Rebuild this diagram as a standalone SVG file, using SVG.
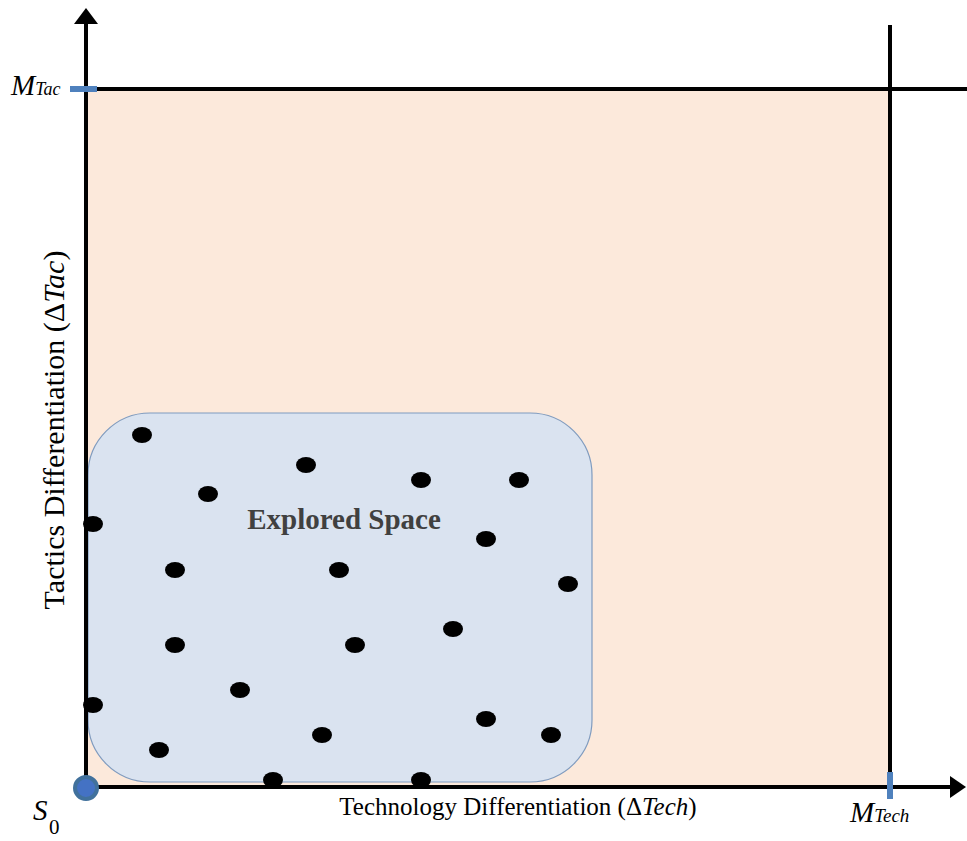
<svg xmlns="http://www.w3.org/2000/svg" width="967" height="841" viewBox="0 0 967 841">
  <style>
    .axis { stroke: #000; stroke-width: 4; fill: none; }
    .bound { stroke: #000; stroke-width: 4; fill: none; }
    .tick { stroke: #4F81BD; stroke-width: 6; }
    .dot { fill: #000; }
    .serif { font-family: "Liberation Serif", "Times New Roman", serif; fill: #000; }
  </style>

  <!-- feasible region -->
  <rect id="region" x="86" y="89" width="804" height="698" fill="#FCE9DB"/>

  <!-- explored sub-space -->
  <g id="explored">
    <rect x="88" y="413" width="504" height="369" rx="62" ry="62" fill="#DAE3F0" stroke="#7F9BBF" stroke-width="1.2"/>
    <text x="344" y="529" text-anchor="middle" font-family="Liberation Serif, Times New Roman, serif" font-weight="bold" font-size="29" fill="#404040">Explored Space</text>
  </g>

  <!-- sampled points -->
  <g id="points">
    <ellipse class="dot" cx="142" cy="435" rx="10" ry="8"/>
    <ellipse class="dot" cx="306" cy="465" rx="10" ry="8"/>
    <ellipse class="dot" cx="421" cy="480" rx="10" ry="8"/>
    <ellipse class="dot" cx="519" cy="480" rx="10" ry="8"/>
    <ellipse class="dot" cx="208" cy="494" rx="10" ry="8"/>
    <ellipse class="dot" cx="93" cy="524" rx="10" ry="8"/>
    <ellipse class="dot" cx="486" cy="539" rx="10" ry="8"/>
    <ellipse class="dot" cx="175" cy="570" rx="10" ry="8"/>
    <ellipse class="dot" cx="339" cy="570" rx="10" ry="8"/>
    <ellipse class="dot" cx="568" cy="584" rx="10" ry="8"/>
    <ellipse class="dot" cx="453" cy="629" rx="10" ry="8"/>
    <ellipse class="dot" cx="175" cy="645" rx="10" ry="8"/>
    <ellipse class="dot" cx="355" cy="645" rx="10" ry="8"/>
    <ellipse class="dot" cx="240" cy="690" rx="10" ry="8"/>
    <ellipse class="dot" cx="93" cy="705" rx="10" ry="8"/>
    <ellipse class="dot" cx="486" cy="719" rx="10" ry="8"/>
    <ellipse class="dot" cx="322" cy="735" rx="10" ry="8"/>
    <ellipse class="dot" cx="551" cy="735" rx="10" ry="8"/>
    <ellipse class="dot" cx="159" cy="750" rx="10" ry="8"/>
    <ellipse class="dot" cx="273" cy="780" rx="10" ry="8"/>
    <ellipse class="dot" cx="421" cy="780" rx="10" ry="8"/>
  </g>

  <!-- axes and bounds -->
  <g id="connectors">
    <line class="bound" x1="86" y1="89" x2="967" y2="89"/>
    <line class="bound" x1="890" y1="25" x2="890" y2="787"/>
    <line class="axis" x1="86" y1="788" x2="86" y2="20"/>
    <path d="M74,24 L86,8 L98,24 Z" fill="#000"/>
    <line class="axis" x1="84" y1="787" x2="954" y2="787"/>
    <path d="M950,776 L966,787 L950,798 Z" fill="#000"/>
    <line class="tick" x1="70" y1="89" x2="97" y2="89"/>
    <line class="tick" x1="890" y1="772" x2="890" y2="799"/>
  </g>

  <!-- origin -->
  <g id="origin">
    <circle cx="86" cy="788" r="11" fill="#4472C4" stroke="#41719C" stroke-width="4"/>
    <text class="serif" x="33" y="820" font-size="29" font-style="italic">S</text>
    <text class="serif" x="49" y="834" font-size="21">0</text>
  </g>

  <!-- bound labels -->
  <g id="label-mtac">
    <text class="serif" x="11" y="95" font-style="italic"><tspan font-size="29">M</tspan><tspan font-size="18">Tac</tspan></text>
  </g>
  <g id="label-mtech">
    <text class="serif" x="850" y="822" font-style="italic"><tspan font-size="29">M</tspan><tspan font-size="19">Tech</tspan></text>
  </g>

  <!-- axis titles -->
  <g id="label-x">
    <text class="serif" x="518" y="815" text-anchor="middle" font-size="25">Technology Differentiation (Δ<tspan font-style="italic">Tech</tspan>)</text>
  </g>
  <g id="label-y">
    <text class="serif" transform="translate(64,430) rotate(-90)" text-anchor="middle" font-size="30">Tactics Differentiation (Δ<tspan font-style="italic">Tac</tspan>)</text>
  </g>
</svg>
